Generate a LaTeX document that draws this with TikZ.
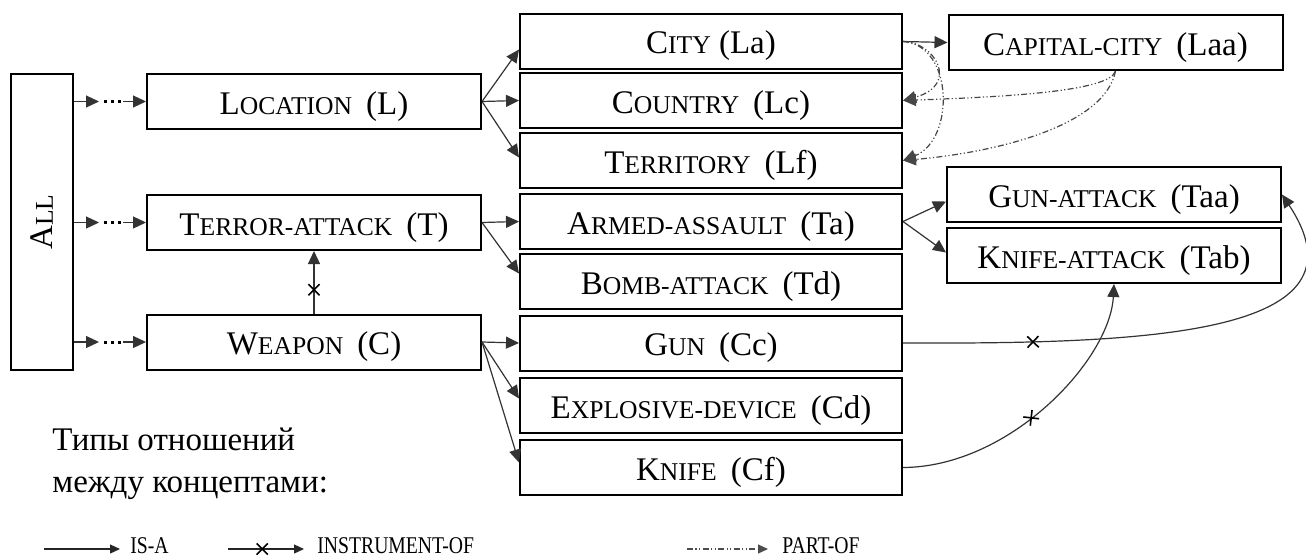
\documentclass[tikz,border=0pt]{standalone}
\usepackage{fontspec}
\setmainfont{Liberation Serif}
\newfontfamily\legfont{Liberation Serif}[FakeStretch=0.82]
\usetikzlibrary{arrows.meta,decorations.markings,calc}
\newcommand\smc[1]{{\fontsize{12.8pt}{15pt}\selectfont #1}}
\newcommand\mainsz{\fontsize{16.5pt}{20pt}\selectfont}
\newcommand\legsz{\legfont\fontsize{12pt}{14pt}\selectfont}
\newcommand\gap{\hspace{7pt}}
\begin{document}
\begin{tikzpicture}[x=0.5pt,y=-0.5pt,
  box/.style={draw, line width=1pt, inner sep=0pt, minimum height=27.5pt, font=\mainsz, text height=12.5pt, text depth=0pt},
  lbox/.style={box, minimum width=167pt},
  mbox/.style={box, minimum width=191pt},
  rbox/.style={box, minimum width=167pt},
  tip/.style={-{Triangle[length=6.5pt,width=6pt]}},
  isa/.style={tip, line width=0.6pt, draw=black!80},
  cross/.style={decoration={markings, mark=at position #1 with {\draw[-, line width=0.8pt, black] (-2.8pt,-2.8pt)--(2.8pt,2.8pt) (-2.8pt,2.8pt)--(2.8pt,-2.8pt);}}, postaction={decorate}},
  inst/.style={isa, cross=#1},
  partof/.style={tip, line width=0.6pt, draw=black!72, dash pattern=on 3pt off 1.2pt on 0.6pt off 1.2pt on 0.6pt off 1.2pt},
  dots/.style={line width=1.5pt, dash pattern=on 1.5pt off 2pt},
  legtip/.style={-{Triangle[length=5pt,width=4.5pt]}, line width=0.6pt, draw=black!85}
]
\useasboundingbox (0,0) rectangle (1306,557);

% nodes
\node[draw, line width=1pt, inner sep=0pt, font=\mainsz, minimum width=31pt, minimum height=148pt] (all) at (42,222) {\rotatebox{90}{A\smc{LL}}};
\node[lbox] (loc) at (314,101.5) {L\smc{OCATION}\gap(L)};
\node[lbox] (ter) at (314,222.5) {T\smc{ERROR-ATTACK}\gap(T)};
\node[lbox] (wea) at (314,342) {W\smc{EAPON}\gap(C)};

\node[mbox] (city) at (711,41.5) {C\smc{ITY} (La)};
\node[mbox] (cou) at (711,100.5) {C\smc{OUNTRY}\gap(Lc)};
\node[mbox] (terr) at (711,160.5) {T\smc{ERRITORY}\gap(Lf)};
\node[mbox] (arm) at (711,221.5) {A\smc{RMED-ASSAULT}\gap(Ta)};
\node[mbox] (bomb) at (711,281.5) {B\smc{OMB-ATTACK}\gap(Td)};
\node[mbox] (gun) at (711,343) {G\smc{UN}\gap(Cc)};
\node[mbox] (exp) at (711,405.5) {E\smc{XPLOSIVE-DEVICE}\gap(Cd)};
\node[mbox] (kni) at (711,467.5) {K\smc{NIFE}\gap(Cf)};

\node[rbox] (cap) at (1115.5,42.5) {C\smc{APITAL-CITY}\gap(Laa)};
\node[rbox] (gatt) at (1114,194.5) {G\smc{UN-ATTACK}\gap(Taa)};
\node[rbox] (katt) at (1114,255.5) {K\smc{NIFE-ATTACK}\gap(Tab)};

\node[anchor=north west, align=left, font=\fontsize{16.5pt}{21pt}\selectfont, inner sep=0pt] (types) at (52,428) {Типы отношений\\между концептами:};

% ALL -> top-level concepts
\foreach \n in {loc,ter,wea}{
  \draw[isa] (all.east |- \n.west) -- ++(25,0);
  \draw[dots] ($(all.east |- \n.west)+(30,0)$) -- ++(19,0);
  \draw[isa] ($(\n.west)+(-23,0)$) -- (\n.west);
}

% is-a
\draw[isa] (loc.east) -- ($(city.west)+(0,8)$);
\draw[isa] (loc.east) -- (cou.west);
\draw[isa] (loc.east) -- ($(terr.west)+(0,-3)$);
\draw[isa] (ter.east) -- (arm.west);
\draw[isa] (ter.east) -- ($(bomb.west)+(0,-8)$);
\draw[isa] (wea.east) -- (gun.west);
\draw[isa] (wea.east) -- ($(exp.west)+(0,-7)$);
\draw[isa] (wea.east) -- ($(kni.west)+(0,-5)$);
\draw[isa] (arm.east) -- ($(gatt.west)+(0,7)$);
\draw[isa] (arm.east) -- ($(katt.west)+(0,-3)$);
\draw[isa] (city.east) -- (cap.west);

% instrument-of
\draw[inst=0.38] (wea.north) -- (ter.south);
\draw[inst=65pt] (gun.east) .. controls (1150,344) and (1375,335) .. (gatt.east);
\draw[inst=70pt] (kni.east) .. controls (1010,467) and (1110,360) .. (katt.south);

% part-of
\draw[partof] (city.east) .. controls (935,42) and (960,85) .. (cou.east);
\draw[partof] (city.east) .. controls (954,45) and (955,140) .. (terr.east);
\draw[partof] (cap.south) .. controls (1110,92) and (1000,97) .. (cou.east);
\draw[partof] (cap.south) .. controls (1105,125) and (1000,152) .. (terr.east);

% legend
\coordinate (a1) at (44,549); \coordinate (b1) at (120,549);
\coordinate (a2) at (228,549); \coordinate (b2) at (304,549);
\coordinate (a3) at (687,549); \coordinate (b3) at (768,549);
\draw[legtip] (a1) -- (b1);
\draw[legtip, cross=0.45] (a2) -- (b2);
\draw[legtip, draw=black!70, dash pattern=on 3pt off 1.2pt on 0.6pt off 1.2pt on 0.6pt off 1.2pt] (a3) -- (b3);
\node[anchor=west, font=\legsz, inner sep=0pt] (l1) at (130,546) {IS-A};
\node[anchor=west, font=\legsz, inner sep=0pt] (l2) at (317,546) {INSTRUMENT-OF};
\node[anchor=west, font=\legsz, inner sep=0pt] (l3) at (782,546) {PART-OF};
\end{tikzpicture}
\end{document}
